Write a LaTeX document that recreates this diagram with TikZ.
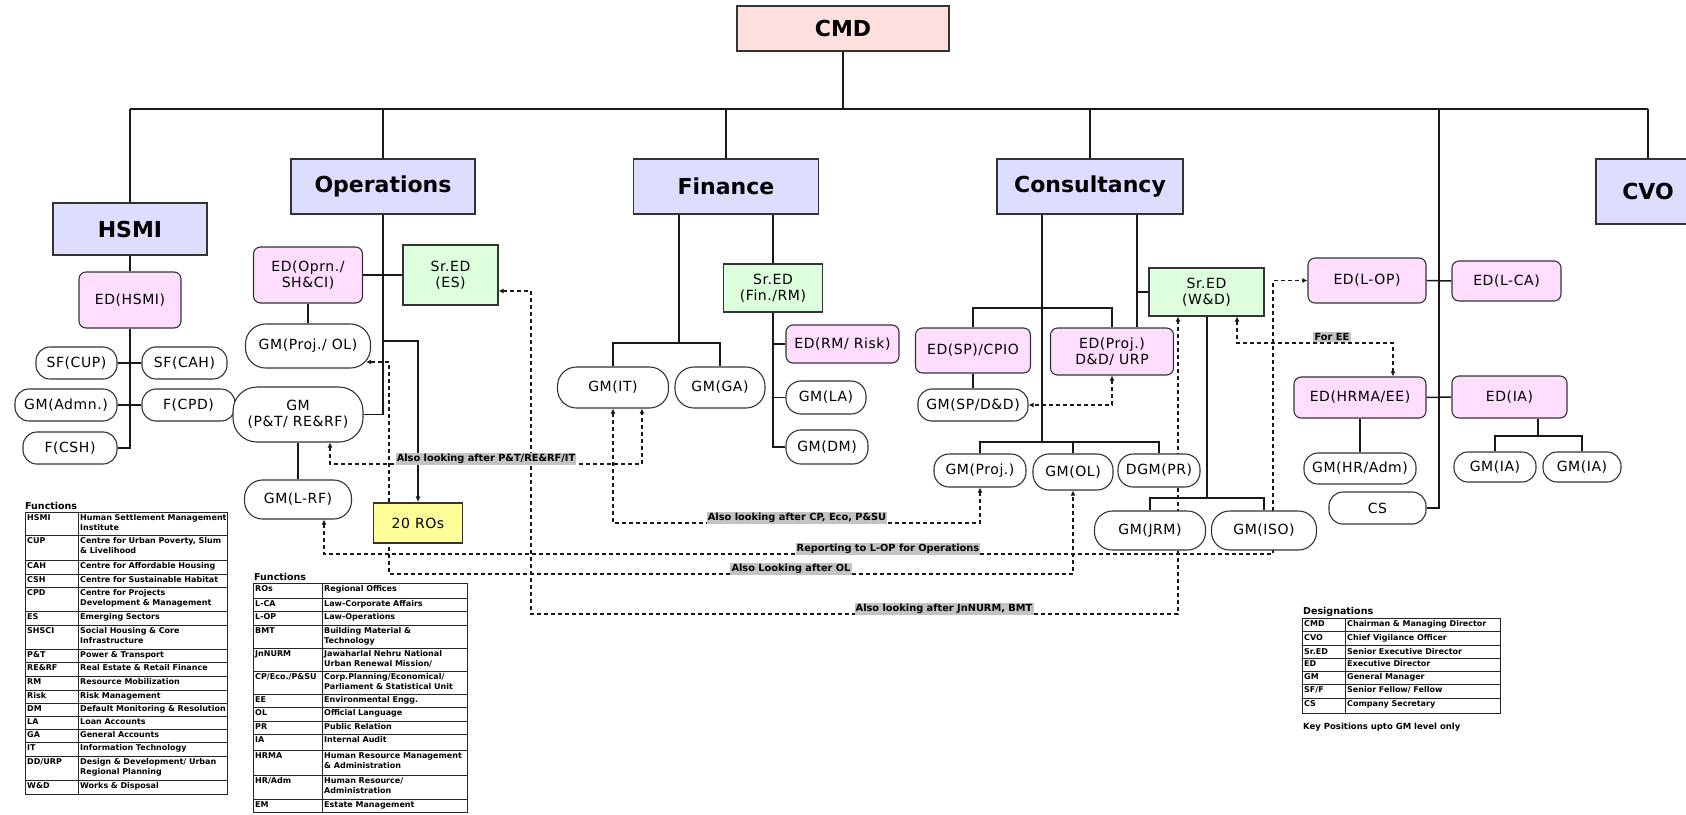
\documentclass[tikz,border=0pt]{standalone}
\usepackage{fontspec}
\setmainfont{DejaVu Sans}
\newfontfamily\nodefont[LetterSpace=4]{DejaVu Sans}
\usetikzlibrary{arrows.meta,backgrounds}
\definecolor{cmdfill}{RGB}{255,222,222}
\definecolor{hdrfill}{RGB}{221,221,255}
\definecolor{edfill}{RGB}{255,221,255}
\definecolor{srfill}{RGB}{221,255,221}
\definecolor{rofill}{RGB}{255,255,153}
\definecolor{lblfill}{RGB}{195,195,195}
\tikzset{
  sz/.style 2 args={minimum width=#1pt, minimum height=#2pt},
  base/.style={draw=black!80, line width=1.1pt, align=center, inner sep=1pt},
  hdr/.style={base, rectangle, fill=hdrfill, font=\fontsize{22}{24}\selectfont\bfseries},
  edbox/.style={base, rounded corners=7pt, fill=edfill, font=\nodefont\fontsize{14}{16}\selectfont},
  srbox/.style={base, fill=srfill, font=\nodefont\fontsize{14}{16}\selectfont},
  gmbox/.style={base, fill=white, rounded corners=14pt, font=\nodefont\fontsize{14}{16}\selectfont},
  robox/.style={base, fill=rofill, font=\nodefont\fontsize{14}{16}\selectfont},
  conn/.style={line width=1.5pt, draw=black!90},
  dl/.style={dash pattern=on 4pt off 3pt, line width=1.2pt, draw=black!90,
    {Latex[length=5pt,width=5pt]}-{Latex[length=5pt,width=5pt]}},
  lbl/.style={fill=lblfill, inner sep=1.2pt, font=\fontsize{9.8}{11}\selectfont\bfseries},
  tbl/.style={line width=1pt, draw=black!85},
  ttxt/.style={font=\fontsize{8}{9.6}\selectfont\bfseries, anchor=north west, inner sep=0pt, align=left},
  thead/.style={font=\fontsize{9.5}{11}\selectfont\bfseries, inner sep=0pt}
}
\begin{document}
\begin{tikzpicture}[x=1pt,y=-1pt]
\useasboundingbox (0,0) rectangle (1686,814);

% ---------- top level ----------
\node[hdr, fill=cmdfill, sz={212}{45}] (cmd) at (843,28.5) {CMD};
\node[hdr, sz={154}{52}] (hsmi) at (130,229) {HSMI};
\node[hdr, sz={184}{55}] (ops) at (383,186.5) {Operations};
\node[hdr, sz={185}{55}] (fin) at (726,186.5) {Finance};
\node[hdr, sz={186}{55}] (cons) at (1090,186.5) {Consultancy};
\node[hdr, sz={104}{65}] (cvo) at (1648,191.5) {CVO};

% ---------- HSMI ----------
\node[edbox, sz={102}{56}] (edhsmi) at (130,300) {ED(HSMI)};
\node[gmbox, sz={81}{32}] (sfcup) at (76.5,363) {SF(CUP)};
\node[gmbox, sz={85}{32}] (sfcah) at (184.5,363) {SF(CAH)};
\node[gmbox, sz={102}{32}] (gmadmn) at (66,405) {GM(Admn.)};
\node[gmbox, sz={93}{32}] (fcpd) at (188.5,405) {F(CPD)};
\node[gmbox, sz={94}{32}] (fcsh) at (70,448) {F(CSH)};

% ---------- Operations ----------
\node[edbox, sz={109}{56}] (edoprn) at (308,275) {ED(Oprn./\\SH\&CI)};
\node[srbox, sz={95}{60}] (sres) at (450.5,275) {Sr.ED\\(ES)};
\node[gmbox, rounded corners=20pt, sz={125}{44}] (gmprojol) at (308,346) {GM(Proj./ OL)};
\node[gmbox, rounded corners=24pt, sz={130}{55}] (gmpt) at (298,414.5) {GM\\(P\&T/ RE\&RF)};
\node[gmbox, rounded corners=18pt, sz={107}{39}] (gmlrf) at (298,499.5) {GM(L-RF)};
\node[robox, sz={89}{40}] (ros) at (418,523) {20 ROs};

% ---------- Finance ----------
\node[gmbox, rounded corners=19pt, sz={111}{41}] (gmit) at (613,387.5) {GM(IT)};
\node[gmbox, rounded corners=19pt, sz={90}{41}] (gmga) at (720,387.5) {GM(GA)};
\node[srbox, sz={99}{48}] (srfin) at (773,288) {Sr.ED\\(Fin./RM)};
\node[edbox, sz={113}{38}] (edrm) at (842.5,344) {ED(RM/ Risk)};
\node[gmbox, rounded corners=15pt, sz={80}{33}] (gmla) at (826,397.5) {GM(LA)};
\node[gmbox, rounded corners=15pt, sz={82}{34}] (gmdm) at (827,447) {GM(DM)};

% ---------- Consultancy ----------
\node[edbox, sz={115}{45}] (edsp) at (973,350.5) {ED(SP)/CPIO};
\node[edbox, sz={123}{47}] (edproj) at (1112,351.5) {ED(Proj.)\\D\&D/ URP};
\node[srbox, sz={115}{48}] (srwd) at (1206.5,292) {Sr.ED\\(W\&D)};
\node[gmbox, sz={110}{32}] (gmspdd) at (973,405) {GM(SP/D\&D)};
\node[gmbox, rounded corners=15pt, sz={92}{33}] (gmproj) at (980,470.5) {GM(Proj.)};
\node[gmbox, rounded corners=16pt, sz={80}{36}] (gmol) at (1073,472) {GM(OL)};
\node[gmbox, rounded corners=15pt, sz={82}{33}] (dgmpr) at (1159,470.5) {DGM(PR)};
\node[gmbox, rounded corners=18pt, sz={111}{39}] (gmjrm) at (1150,530.5) {GM(JRM)};
\node[gmbox, rounded corners=18pt, sz={105}{39}] (gmiso) at (1264,530.5) {GM(ISO)};

% ---------- right side ----------
\node[edbox, sz={118}{45}] (edlop) at (1367,280.5) {ED(L-OP)};
\node[edbox, sz={109}{40}] (edlca) at (1506.5,281) {ED(L-CA)};
\node[edbox, sz={132}{41}] (edhrma) at (1360,397.5) {ED(HRMA/EE)};
\node[edbox, sz={115}{42}] (edia) at (1509.5,397) {ED(IA)};
\node[gmbox, sz={112}{31}] (gmhr) at (1360,468.5) {GM(HR/Adm)};
\node[gmbox, sz={97}{32}] (cs) at (1377.5,508) {CS};
\node[gmbox, sz={82}{30}] (gmia1) at (1495,467) {GM(IA)};
\node[gmbox, sz={78}{30}] (gmia2) at (1582,467) {GM(IA)};

% ---------- label nodes ----------
\node[lbl] (la) at (486,459) {Also looking after P\&T/RE\&RF/IT};
\node[lbl] (lb) at (797,518) {Also looking after CP, Eco, P\&SU};
\node[lbl] (lc) at (888,549) {Reporting to L-OP for Operations};
\node[lbl] (ld) at (791,569) {Also Looking after OL};
\node[lbl] (le) at (944,609) {Also looking after JnNURM, BMT};
\node[lbl] (lf) at (1332,337) {For EE};

% ---------- connectors (behind nodes) ----------
\begin{scope}[on background layer]
\coordinate (bus) at (0,109);
\draw[conn] (cmd.south) -- (cmd.south |- bus);
\draw[conn] (hsmi.north |- bus) -- (cvo.north |- bus);
\draw[conn] (hsmi.north) -- (hsmi.north |- bus);
\draw[conn] (ops.north) -- (ops.north |- bus);
\draw[conn] (fin.north) -- (fin.north |- bus);
\draw[conn] (cons.north) -- (cons.north |- bus);
\draw[conn] (cvo.north) -- (cvo.north |- bus);
\coordinate (rv) at (1439,109);
\draw[conn] (rv) -- (rv |- cs.east) -- (cs.east);

% HSMI
\draw[conn] (hsmi.south) -- (edhsmi.north);
\draw[conn] (edhsmi.south) -- (edhsmi.south |- fcsh.east) -- (fcsh.east);
\draw[conn] (sfcup.east) -- (sfcah.west);
\draw[conn] (gmadmn.east) -- (fcpd.west);

% Operations
\draw[conn] (ops.south) -- (ops.south |- gmpt.east) -- (gmpt.east);
\draw[conn] (edoprn.east) -- (sres.west);
\draw[conn] (edoprn.south) -- (gmprojol.north);
\coordinate (opsb) at (383,341);
\draw[conn, -{Latex[length=6pt,width=5pt]}] (opsb) -- (opsb -| ros.north) -- (ros.north);
\draw[conn] (gmpt.south) -- (gmlrf.north);

% Finance
\coordinate (finl) at (679,343);
\draw[conn] (fin.south -| finl) -- (finl);
\draw[conn] (gmit.north) -- (gmit.north |- finl) -- (gmga.north |- finl) -- (gmga.north);
\draw[conn] (fin.south -| srfin.north) -- (srfin.north);
\draw[conn] (srfin.south) -- (srfin.south |- gmdm.west) -- (gmdm.west);
\draw[conn] (srfin.south |- edrm.west) -- (edrm.west);
\draw[conn] (srfin.south |- gmla.west) -- (gmla.west);

% Consultancy
\coordinate (cl) at (1042,308);
\coordinate (cgb) at (1042,442);
\draw[conn] (cons.south -| cl) -- (cgb);
\draw[conn] (edsp.north) -- (edsp.north |- cl) -- (edproj.north |- cl) -- (edproj.north);
\coordinate (cr) at (1137,292);
\draw[conn] (cons.south -| cr) -- (edproj.north -| cr);
\draw[conn] (cr) -- (srwd.west);
\draw[conn] (edsp.south) -- (gmspdd.north);
\draw[conn] (gmproj.north) -- (gmproj.north |- cgb) -- (dgmpr.north |- cgb) -- (dgmpr.north);
\draw[conn] (gmol.north) -- (gmol.north |- cgb);
\coordinate (wdb) at (1207,498);
\draw[conn] (srwd.south -| wdb) -- (wdb);
\draw[conn] (gmjrm.north) -- (gmjrm.north |- wdb) -- (gmiso.north |- wdb) -- (gmiso.north);

% right side
\draw[conn] (edlop.east) -- (edlca.west);
\draw[conn] (edhrma.east) -- (edia.west);
\draw[conn] (edhrma.south) -- (gmhr.north);
\coordinate (iab) at (1538,436);
\draw[conn] (edia.south -| iab) -- (iab);
\draw[conn] (gmia1.north) -- (gmia1.north |- iab) -- (gmia2.north |- iab) -- (gmia2.north);

% dashed
\coordinate (a1) at ([xshift=32pt]gmpt.south);
\coordinate (a2) at ([xshift=29pt]gmit.south);
\coordinate (ay) at (0,464);
\draw[dl] (a1) -- (a1 |- ay) -- (a2 |- ay) -- (a2);

\coordinate (by) at (0,523);
\draw[dl] (gmit.south) -- (gmit.south |- by) -- (gmproj.south |- by) -- (gmproj.south);

\coordinate (c1) at ([xshift=26pt]gmlrf.south);
\coordinate (cy) at (1273,554);
\draw[dl] (c1) -- (c1 |- cy) -- (cy) -- (cy |- edlop.west) -- (edlop.west);

\coordinate (d1) at ([xshift=-5pt,yshift=-16pt]gmprojol.east);
\coordinate (dy) at (389,574);
\draw[dl] (d1) -- (d1 -| dy) -- (dy) -- (gmol.south |- dy) -- (gmol.south);

\coordinate (e1) at ([yshift=-16pt]sres.east);
\coordinate (ey) at (531,614);
\coordinate (e2) at ([xshift=-28.5pt]srwd.south);
\draw[dl] (e1) -- (e1 -| ey) -- (ey) -- (e2 |- ey) -- (e2);

\coordinate (f1) at ([xshift=30.5pt]srwd.south);
\coordinate (fy) at (0,343);
\coordinate (f2) at ([xshift=33pt]edhrma.north);
\draw[dl] (f1) -- (f1 |- fy) -- (f2 |- fy) -- (f2);

\draw[dl] (edproj.south) -- (edproj.south |- gmspdd.east) -- (gmspdd.east);
\end{scope}

% ---------- tables ----------
\node[thead, anchor=south west] (fh1) at (25,510) {Functions};
\foreach \t/\b/\k/\v [count=\i] in {
  512/535/HSMI/{Human Settlement Management\\Institute},
  535/560/CUP/{Centre for Urban Poverty, Slum\\\& Livelihood},
  560/574/CAH/{Centre for Affordable Housing},
  574/587/CSH/{Centre for Sustainable Habitat},
  587/611/CPD/{Centre for Projects\\Development \& Management},
  611/625/ES/{Emerging Sectors},
  625/649/SHSCI/{Social Housing \& Core\\Infrastructure},
  649/662/P\&T/{Power \& Transport},
  662/676/RE\&RF/{Real Estate \& Retail Finance},
  676/690/RM/{Resource Mobilization},
  690/703/Risk/{Risk Management},
  703/716/DM/{Default Monitoring \& Resolution},
  716/729/LA/{Loan Accounts},
  729/742/GA/{General Accounts},
  742/756/IT/{Information Technology},
  756/780/{DD/URP}/{Design \& Development/ Urban\\Regional Planning},
  780/794/W\&D/{Works \& Disposal}} {
  \draw[tbl] (25,\t) rectangle (78,\b);
  \draw[tbl] (78,\t) rectangle (227,\b);
  \node[ttxt] (lk\i) at (27,\t+2.5) {\k};
  \node[ttxt, text width=147pt] (lv\i) at (80,\t+2.5) {\v};
}

\node[thead, anchor=south west] (fh2) at (254,581) {Functions};
\foreach \t/\b/\k/\v [count=\i] in {
  583/598/ROs/{Regional Offices},
  598/611/L-CA/{Law-Corporate Affairs},
  611/625/L-OP/{Law-Operations},
  625/648/BMT/{Building Material \&\\Technology},
  648/671/JnNURM/{Jawaharlal Nehru National\\Urban Renewal Mission/},
  671/694/{CP/Eco./P\&SU}/{Corp.Planning/Economical/\\Parliament \& Statistical Unit},
  694/707/EE/{Environmental Engg.},
  707/721/OL/{Official Language},
  721/734/PR/{Public Relation},
  734/750/IA/{Internal Audit},
  750/775/HRMA/{Human Resource Management\\\& Administration},
  775/799/{HR/Adm}/{Human Resource/\\Administration},
  799/812/EM/{Estate Management}} {
  \draw[tbl] (253,\t) rectangle (322,\b);
  \draw[tbl] (322,\t) rectangle (467,\b);
  \node[ttxt] (mk\i) at (255,\t+2.5) {\k};
  \node[ttxt, text width=143pt] (mv\i) at (324,\t+2.5) {\v};
}

\node[thead, anchor=south west] (dh) at (1303,617) {Designations};
\foreach \t/\b/\k/\v [count=\i] in {
  618/631.5/CMD/{Chairman \& Managing Director},
  631.5/645.5/CVO/{Chief Vigilance Officer},
  645.5/658/Sr.ED/{Senior Executive Director},
  658/671/ED/{Executive Director},
  671/684/GM/{General Manager},
  684/698/{SF/F}/{Senior Fellow/ Fellow},
  698/713/CS/{Company Secretary}} {
  \draw[tbl] (1302,\t) rectangle (1345,\b);
  \draw[tbl] (1345,\t) rectangle (1500,\b);
  \node[ttxt] (dk\i) at (1304,\t+2.5) {\k};
  \node[ttxt, text width=153pt] (dv\i) at (1347,\t+2.5) {\v};
}
\node[thead, anchor=west, font=\fontsize{8.5}{10}\selectfont\bfseries] (kp) at (1303,727) {Key Positions upto GM level only};
\end{tikzpicture}
\end{document}
